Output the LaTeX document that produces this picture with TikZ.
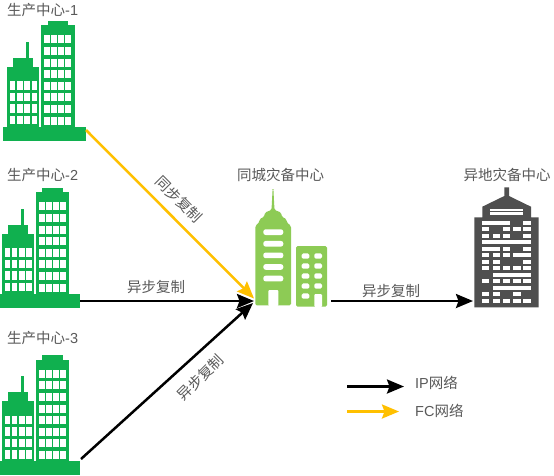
\documentclass[tikz,border=0pt]{standalone}
\usepackage{fontspec}
\setmainfont{Liberation Sans}
\newfontfamily\cjk{Noto Sans CJK SC}
\usetikzlibrary{arrows.meta}
\definecolor{bgreen}{HTML}{10B04F}
\definecolor{lgreen}{HTML}{8DCB55}
\definecolor{gbld}{HTML}{4F4F4F}
\definecolor{fcy}{HTML}{FFC000}
\definecolor{txt}{HTML}{595959}
\tikzset{
  lbl/.style={text=txt,font=\fontsize{14.5}{16}\selectfont\cjk,inner sep=0pt},
  link/.style={line width=2.5pt,-{Stealth[length=17pt,width=14pt,inset=2.5pt]}},
  ip/.style={link,draw=black,fill=black},
  fc/.style={link,draw=fcy,fill=fcy},
}
\newcommand{\greenbldg}[2]{%
\begin{scope}[shift={(#1,#2)}]
  \fill[bgreen] (3.3,127) rectangle (85.7,140.6);
  \fill[bgreen] (7.3,67) rectangle (39.3,128);
  \fill[bgreen] (13.3,58) rectangle (33.3,68);
  \fill[bgreen] (26.3,42) rectangle (29,59);
  \fill[bgreen] (41.3,25.3) rectangle (74.7,128);
  \fill[bgreen] (47.7,20.7) rectangle (68.3,26);
  \foreach \c in {0,1,2,3}{
    \foreach \r in {0,...,7}
      \fill[white] ({44.4+6.95*\c},{35.3+11.6*\r}) rectangle ++(5.6,8);
    \foreach \r in {0,...,3}
      \fill[white] ({10+7.2*\c},{81.3+11.4*\r}) rectangle ++(5.4,8.6);
  }
\end{scope}}
\begin{document}
\begin{tikzpicture}[x=1pt,y=-1pt]
\useasboundingbox (0,0) rectangle (554,475);
\fill[white] (0,0) rectangle (554,475);
\greenbldg{0}{0}
\greenbldg{-5.3}{167}
\greenbldg{-5.3}{334.4}
% centre building
\fill[lgreen,rounded corners=1.5pt] (255.3,305.3) -- (255.3,226) -- (259.5,222) -- (259.5,219) -- (264,217) -- (265,212.5) -- (270,210.5) -- (271.5,210) -- (272.6,189.3) -- (273.4,189.3) -- (274.5,210) -- (276,210.5) -- (281,212.5) -- (282,217) -- (286.5,219) -- (286.5,222) -- (291,226) -- (291,305.3) -- cycle;
\fill[white,rounded corners=1pt] (268.3,306) -- (268.3,290) -- (278.3,290) -- (278.3,306) -- cycle;
\foreach \r in {0,...,4}
  \fill[white,rounded corners=2.4pt] (263.3,{229.3+11.6*\r}) rectangle ++(20,5.7);
\fill[lgreen,rounded corners=1.5pt] (296,246) rectangle (327,306.7);
\foreach \r in {0,...,4}
  \fill[white,rounded corners=1.5pt] (301.7,{253.3+10*\r}) rectangle ++(7.6,5.4);
\foreach \r in {0,...,3}
  \fill[white,rounded corners=1.5pt] (314.3,{253.3+10*\r}) rectangle ++(7.7,5.4);
\fill[white,rounded corners=1pt] (314.3,294) rectangle (322,307);
% grey building
\fill[gbld] (474.3,307.3) -- (474.3,217.3) -- (482.3,217.3) -- (482.3,206.7) -- (504.3,196) -- (504.3,187.3) -- (509,187.3) -- (509,196) -- (531,206.7) -- (531,217.3) -- (538.7,217.3) -- (538.7,307.3) -- cycle;
\fill[white] (490,208.7) rectangle (522.7,211);
\fill[white] (490,212.3) rectangle (522.7,215);
\foreach \y/\spans in {
  182/{97/180,220/243},
  202/{97/118,160/180,190/212,220/243},
  222/{97/118,128/150,160/180,220/243},
  241/{97/243},
  261/{97/150,160/180,220/243},
  280/{97/118,128/150,160/180,190/243},
  300/{97/118,128/150,220/243},
  319/{97/118,128/150,160/180,190/212,220/243},
  339/{128/243},
  358/{97/118,128/150,160/180,190/212,220/243},
  378/{128/243},
  397/{97/118,128/150,190/212},
  417/{97/118,128/150,160/180,190/212,220/243}}{
  \foreach \a/\b in \spans
    \fill[white] ({450+\a/3},{160+\y/3}) rectangle ({450+\b/3},{160+(\y+12)/3});
}
% anchors of the connectors
\coordinate (p1) at (86,130);
\coordinate (p2) at (80,301);
\coordinate (p3) at (81,459);
\coordinate (c1) at (254,298.5);
\coordinate (c2) at (254,301);
\coordinate (c3) at (253,303);
\coordinate (co) at (331,301);
\coordinate (g) at (473,301);
\coordinate (l1a) at (347,386.5);
\coordinate (l1b) at (404,386.5);
\coordinate (l2a) at (347,411.5);
\coordinate (l2b) at (399,411.5);
\draw[ip] (p2) -- (c2);
\draw[ip] (p3) -- (c3);
\draw[fc] (p1) -- (c1);
\draw[ip] (co) -- (g);
\draw[ip] (l1a) -- (l1b);
\draw[fc] (l2a) -- (l2b);
% labels
\node[lbl,anchor=west] (t1) at (7,10) {生产中心\textrm{-1}};
\node[lbl,anchor=west] (t2) at (7,175.5) {生产中心\textrm{-2}};
\node[lbl,anchor=west] (t3) at (7,338.5) {生产中心\textrm{-3}};
\node[lbl] (t4) at (280.5,174.5) {同城灾备中心};
\node[lbl] (t5) at (507,175) {异地灾备中心};
\node[lbl,rotate=-45] (t6) at (179,199.5) {同步复制};
\node[lbl] (t7) at (156,287.5) {异步复制};
\node[lbl,rotate=45] (t8) at (200.5,377.5) {异步复制};
\node[lbl] (t9) at (391,291) {异步复制};
\node[lbl,anchor=west] (t10) at (415,382.5) {\textrm{IP}网络};
\node[lbl,anchor=west] (t11) at (415,411) {\textrm{FC}网络};
\end{tikzpicture}
\end{document}
